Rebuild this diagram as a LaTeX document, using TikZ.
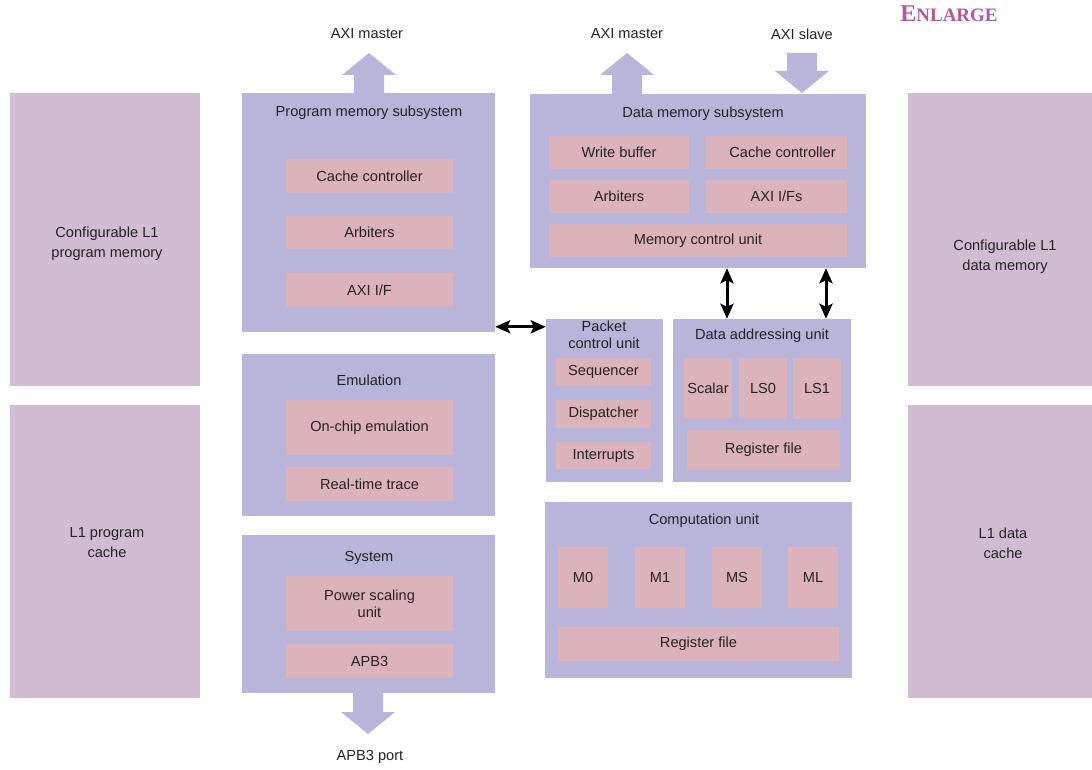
\documentclass[tikz,border=0pt]{standalone}
\usepackage{fontspec}
\setmainfont{Liberation Sans}
\newfontfamily\enlfont{Liberation Serif}
\usetikzlibrary{arrows.meta}
\definecolor{outerc}{HTML}{B9B4DA}
\definecolor{innerc}{HTML}{DCB3BB}
\definecolor{sidec}{HTML}{D1BDD1}
\definecolor{txtc}{HTML}{232323}
\definecolor{enlc}{HTML}{B5569B}
\newcommand\bx[6]{\node[#1, minimum width={(#4)-(#2)}, minimum height={(#5)-(#3)}] (#6) at ({((#2)+(#4))/2},{((#3)+(#5))/2})}
\newcommand\fatup[4]{\fill[outerc] ({#1-15},#2) -- ({#1-15},#4) -- ({#1-27},#4) -- (#1,#3) -- ({#1+27},#4) -- ({#1+15},#4) -- ({#1+15},#2) -- cycle;}
\tikzset{
  lblfont/.style={font=\fontsize{14.6}{17}\selectfont},
  outerbox/.style={fill=outerc, draw=none, inner sep=0pt},
  sidebox/.style={fill=sidec, draw=none, inner sep=0pt, text=txtc, align=center, lblfont},
  innerbox/.style={fill=innerc, draw=none, inner sep=0pt, text=txtc, align=center, lblfont},
  lbl/.style={text=txtc, inner sep=0pt, align=center, lblfont},
  dbl/.style={{Stealth[length=15pt,width=13pt,inset=3pt]}-{Stealth[length=15pt,width=13pt,inset=3pt]}, line width=3pt, black},
}
\begin{document}
\begin{tikzpicture}[x=1pt,y=-1pt]
\useasboundingbox (0,0) rectangle (1092,770);
\fill[white] (0,0) rectangle (1092,770);

% side boxes
\bx{sidebox}{10}{93}{200}{386}{l1pm} {};
\bx{sidebox}{10}{405}{200}{698}{l1pc} {};
\bx{sidebox}{908}{93}{1092}{386}{l1dm} {};
\bx{sidebox}{908}{405}{1092}{698}{l1dc} {};
\node[lbl, font=\fontsize{14.6}{20}\selectfont] (l1pmT) at (107,244) {Configurable L1\\program memory};
\node[lbl, font=\fontsize{14.6}{20}\selectfont] (l1pcT) at (107,543) {L1 program\\cache};
\node[lbl, font=\fontsize{14.6}{20}\selectfont] (l1dmT) at (1005,257) {Configurable L1\\data memory};
\node[lbl, font=\fontsize{14.6}{20}\selectfont] (l1dcT) at (1003,543) {L1 data\\cache};

% program memory subsystem
\bx{outerbox}{242}{93}{495}{332}{pms} {};
\node[lbl] (pmsT) at (369,113) {Program memory subsystem};
\bx{innerbox}{286}{159}{453}{193}{pcc} {Cache controller};
\bx{innerbox}{286}{216}{453}{249}{parb} {Arbiters};
\bx{innerbox}{286}{273}{453}{307}{paxi} {AXI I/F};

% emulation
\bx{outerbox}{242}{354}{495}{516}{emu} {};
\node[lbl] (emuT) at (369,380) {Emulation};
\bx{innerbox}{286}{400}{453}{455}{oce} {On-chip emulation};
\bx{innerbox}{286}{467}{453}{501}{rtt} {Real-time trace};

% system
\bx{outerbox}{242}{535}{495}{693}{sys} {};
\node[lbl] (sysT) at (369,558) {System};
\bx{innerbox}{286}{576}{453}{631}{psu} {\fontsize{14.6}{15}\selectfont Power scaling\\unit};
\bx{innerbox}{286}{644}{453}{678}{apb} {APB3};

% data memory subsystem
\bx{outerbox}{530}{94}{866}{268}{dms} {};
\node[lbl] (dmsT) at (703,114) {Data memory subsystem};
\bx{innerbox}{549}{136}{689}{169}{wb} {Write buffer};
\bx{innerbox}{706}{136}{847}{169}{dcc} {\hspace{12pt}Cache controller};
\bx{innerbox}{549}{180}{689}{213}{darb} {Arbiters};
\bx{innerbox}{706}{180}{847}{213}{daxi} {AXI I/Fs};
\bx{innerbox}{549}{224}{847}{257}{mcu} {Memory control unit};

% packet control unit
\bx{outerbox}{546}{319}{663}{482}{pcu} {};
\node[lbl, font=\fontsize{14.6}{17}\selectfont] (pcuT) at (604,335) {Packet\\control unit};
\bx{innerbox}{556}{358}{651}{386}{seq} {Sequencer};
\bx{innerbox}{556}{400}{651}{428}{disp} {Dispatcher};
\bx{innerbox}{556}{442}{651}{469}{intr} {Interrupts};

% data addressing unit
\bx{outerbox}{673}{319}{851}{482}{dau} {};
\node[lbl] (dauT) at (762,336) {Data addressing unit};
\bx{innerbox}{684}{358}{732}{419}{scal} {Scalar};
\bx{innerbox}{739}{358}{787}{419}{ls0} {LS0};
\bx{innerbox}{793}{358}{841}{419}{ls1} {LS1};
\bx{innerbox}{687}{430}{840}{470}{drf} {Register file};

% computation unit
\bx{outerbox}{545}{502}{852}{678}{cu} {};
\node[lbl] (cuT) at (704,521) {Computation unit};
\bx{innerbox}{558}{547}{608}{608}{m0} {M0};
\bx{innerbox}{635}{547}{685}{608}{m1} {M1};
\bx{innerbox}{712}{547}{762}{608}{ms} {MS};
\bx{innerbox}{788}{547}{838}{608}{ml} {ML};
\bx{innerbox}{558}{627}{839}{661}{crf} {Register file};

% fat arrows
\fatup{369}{93}{53}{75}
\fatup{627}{94}{53}{75}
\fill[outerc] (787,53) -- (787,71) -- (775,71) -- (802,93) -- (829,71) -- (817,71) -- (817,53) -- cycle;
\fill[outerc] (353,693) -- (353,712) -- (341,712) -- (368,734) -- (395,712) -- (383,712) -- (383,693) -- cycle;

\node[lbl] (axim1) at (367,34) {AXI master};
\node[lbl] (axim2) at (627,34) {AXI master};
\node[lbl] (axis) at (802,34) {AXI slave};
\node[lbl] (apbp) at (370,757) {APB3 port};

% double arrows
\coordinate (h1) at ([yshift=-8pt]pcu.north west);
\draw[dbl] (h1 -| pms.east) -- (h1);
\coordinate (v1) at (727,0);
\coordinate (v2) at (826,0);
\draw[dbl] (v1 |- dms.south) -- (v1 |- dau.north);
\draw[dbl] (v2 |- dms.south) -- (v2 |- dau.north);

% ENLARGE
\node[text=enlc, inner sep=0pt, font=\enlfont\bfseries] (enl) at (949,14) {\fontsize{24}{24}\selectfont E\fontsize{19}{19}\selectfont NLARGE};
\end{tikzpicture}
\end{document}
